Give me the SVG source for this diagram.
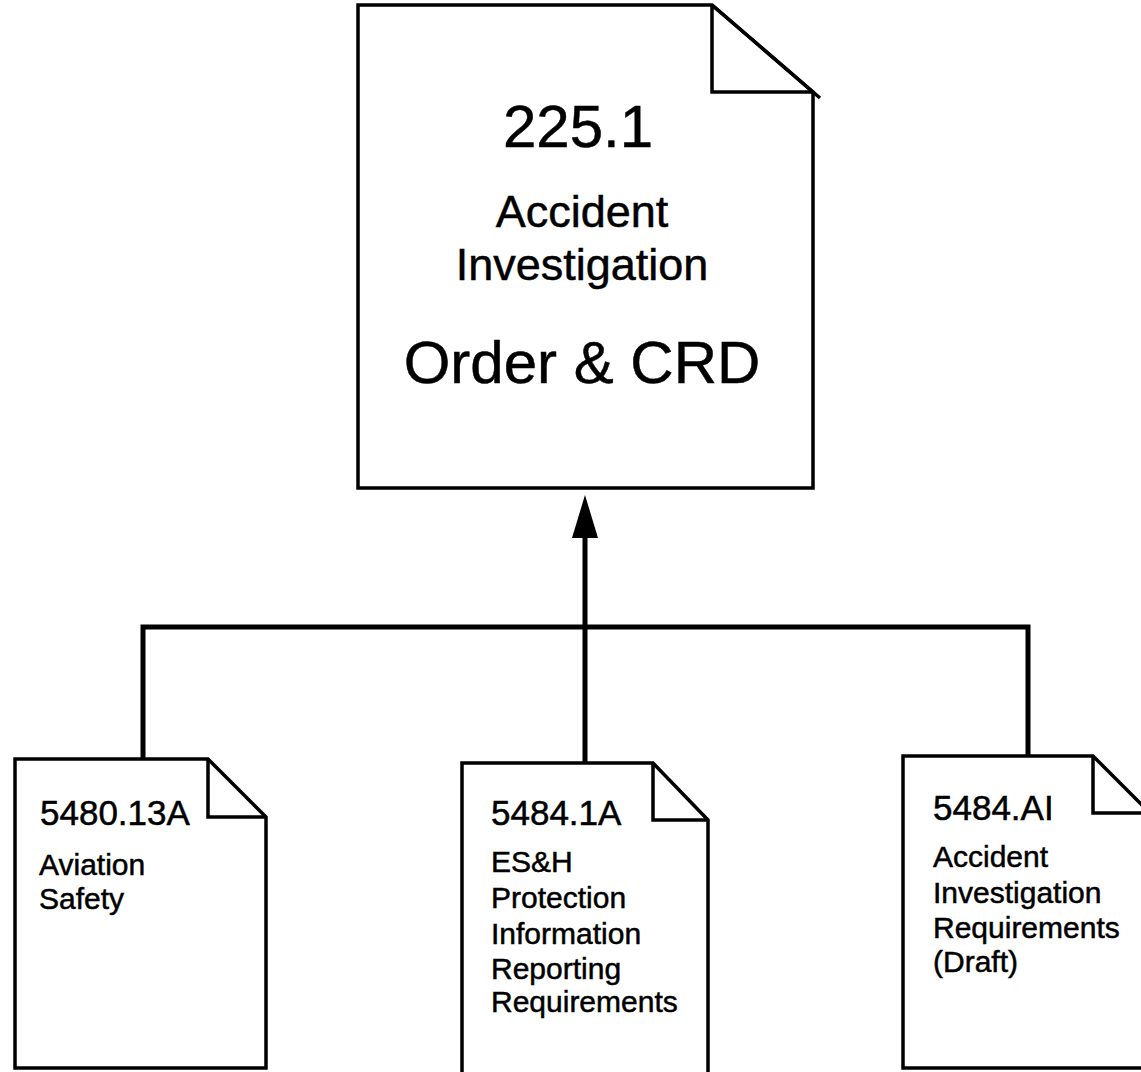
<svg xmlns="http://www.w3.org/2000/svg" width="1141" height="1072" viewBox="0 0 1141 1072">
<style>
.doc{fill:#fff;stroke:#000;stroke-width:3.5;stroke-linejoin:miter}
.fold{fill:none;stroke:#000;stroke-width:3.5}
.conn{fill:none;stroke:#000;stroke-width:5}
text{font-family:"Liberation Sans",Arial,sans-serif;fill:#000;stroke:#000;stroke-width:0.5}
.big{font-size:60px;text-anchor:middle}
.mid{font-size:45px;text-anchor:middle}
.num{font-size:35px}
.lbl{font-size:30px}
</style>
<rect width="1141" height="1072" fill="#fff"/>
<g id="connectors">
<polyline class="conn" points="143,759 143,627 1028,627 1028,756"/>
<line class="conn" x1="585" y1="763" x2="585" y2="530"/>
<polygon points="585,495 572,538 598,538" fill="#000"/>
</g>
<g id="node-225-1">
<path class="doc" d="M358,5 L712,5 L813,92 L813,488 L358,488 Z"/>
<path class="fold" d="M712,5 L712,92 L813,92 M712,5 L820,98"/>
<text class="big" x="578" y="147">225.1</text>
<text class="mid" x="582" y="227">Accident</text>
<text class="mid" x="582" y="280">Investigation</text>
<text class="big" x="582" y="383">Order &amp; CRD</text>
</g>
<g id="node-5480-13A">
<path class="doc" d="M15,759 L208,759 L266,817 L266,1068 L15,1068 Z"/>
<path class="fold" d="M208,759 L208,817 L266,817"/>
<text class="num" x="40" y="825">5480.13A</text>
<text class="lbl" x="39" y="875">Aviation</text>
<text class="lbl" x="39" y="909">Safety</text>
</g>
<g id="node-5484-1A">
<path class="doc" d="M462,763 L653,763 L708,820 L708,1080 L462,1080 Z"/>
<path class="fold" d="M653,763 L653,820 L708,820"/>
<text class="num" x="491" y="825">5484.1A</text>
<text class="lbl" x="491" y="872">ES&amp;H</text>
<text class="lbl" x="491" y="908">Protection</text>
<text class="lbl" x="491" y="944">Information</text>
<text class="lbl" x="491" y="979">Reporting</text>
<text class="lbl" x="491" y="1012">Requirements</text>
</g>
<g id="node-5484-AI">
<path class="doc" d="M903,756 L1093,756 L1150,813 L1150,1068 L903,1068 Z"/>
<path class="fold" d="M1093,756 L1093,813 L1150,813"/>
<text class="num" x="933" y="820">5484.AI</text>
<text class="lbl" x="933" y="867">Accident</text>
<text class="lbl" x="933" y="903">Investigation</text>
<text class="lbl" x="933" y="938">Requirements</text>
<text class="lbl" x="933" y="972">(Draft)</text>
</g>
</svg>
